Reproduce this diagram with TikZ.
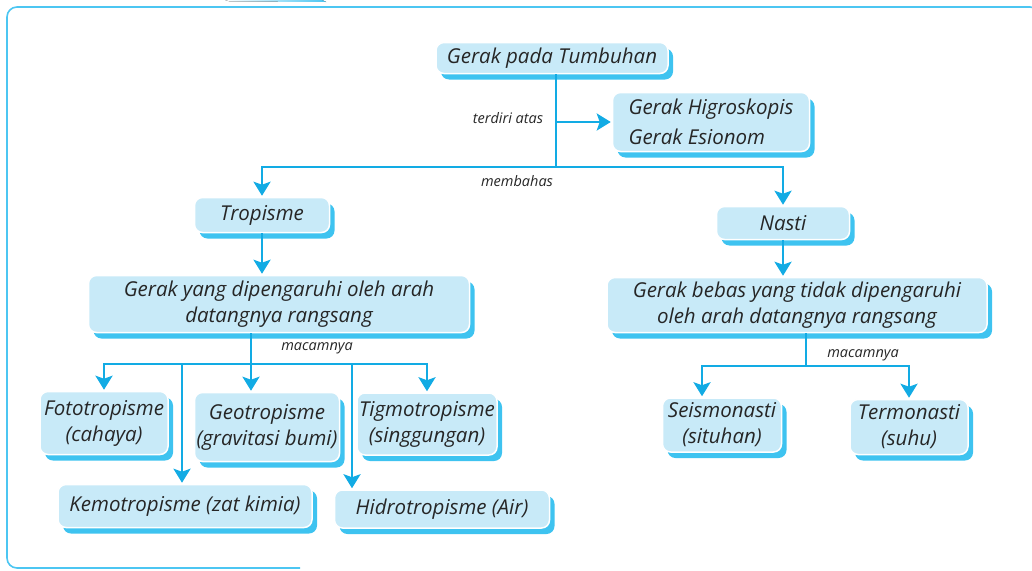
\documentclass[tikz,border=0pt]{standalone}
\usepackage{fontspec}
\setmainfont{Open Sans}
\usetikzlibrary{arrows.meta,shadows}
\definecolor{boxfill}{HTML}{C8EAF8}
\definecolor{boxshadow}{HTML}{3EC3F0}
\definecolor{linecol}{HTML}{12ABE4}
\definecolor{framecol}{HTML}{4CC6F2}

\begin{document}
\begin{tikzpicture}[x=1pt, y=-1pt,
    box/.style={rectangle, rounded corners=8pt, fill=boxfill, draw=white, line width=1.5pt,
        inner sep=0pt, align=center, text=black!85, font=\itshape\fontsize{20.5}{26}\selectfont,
        drop shadow={shadow xshift=5pt, shadow yshift=-6pt, fill=boxshadow, opacity=1}},
    lbl/.style={inner sep=1pt, text=black!85, font=\itshape\fontsize{14.5}{16}\selectfont},
    link/.style={line width=2.6pt, draw=linecol},
    arrow/.style={link, -{Stealth[width=17pt, length=14pt, inset=3pt]}, shorten >=1pt},
    frame/.style={draw=framecol, line width=1.6pt, rounded corners=10pt}
]
    \useasboundingbox (0,0) rectangle (1032,570);

    % Frame
    \draw[frame] (300,568) -- (7,568) -- (7,7) -- (1040,7) -- (1040,30);
    \fill[left color=white, right color=framecol] (225,0) -- (322,0) -- (326,2) -- (230,1.5) -- cycle;

    % Top
    \node[box, minimum width=232pt, minimum height=31pt] (top) at (552,58) {Gerak pada Tumbuhan};
    \node[box, align=left, minimum width=197pt, minimum height=59pt,
        font=\itshape\fontsize{20.5}{30}\selectfont] (hig) at (711,122) {Gerak Higroskopis\\Gerak Esionom};

    % Tropisme and Nasti
    \node[box, minimum width=135pt, minimum height=35pt] (trop) at (262,215) {Tropisme};
    \node[box, minimum width=133pt, minimum height=33pt] (nasti) at (783,223) {Nasti};
    \node[box, minimum width=381pt, minimum height=57pt] (dip) at (279,304) {Gerak yang dipengaruhi oleh arah\\datangnya rangsang};
    \node[box, minimum width=380pt, minimum height=55pt] (bebas) at (797,305) {Gerak bebas yang tidak dipengaruhi\\oleh arah datangnya rangsang};

    % Kinds of tropisme
    \node[box, minimum width=128pt, minimum height=63pt] (foto) at (104,423) {Fototropisme\\(cahaya)};
    \node[box, minimum width=145pt, minimum height=69pt] (geo) at (267,427) {Geotropisme\\(gravitasi bumi)};
    \node[box, minimum width=140pt, minimum height=62pt] (tigmo) at (427,424) {Tigmotropisme\\(singgungan)};
    \node[box, minimum width=254pt, minimum height=43pt] (kemo) at (185,506) {Kemotropisme (zat kimia)};
    \node[box, minimum width=215pt, minimum height=38pt] (hidro) at (442,509) {Hidrotropisme (Air)};

    % Kinds of nasti
    \node[box, minimum width=119pt, minimum height=54pt] (seis) at (722,425) {Seismonasti\\(situhan)};
    \node[box, minimum width=118pt, minimum height=55pt] (termo) at (909,427) {Termonasti\\(suhu)};

    % Junctions
    \coordinate (split) at (556,167);
    \coordinate (m1) at (251,364);
    \coordinate (kj) at (182,364);
    \coordinate (hj) at (352,364);
    \coordinate (m2) at (806,366);

    % Connections
    \draw[link] (top.south -| split) -- (split);
    \draw[arrow] (split |- hig.west) -- (hig.west);
    \draw[arrow] (split) -| (trop.north);
    \draw[arrow] (split) -| (nasti.north);
    \draw[arrow] (trop.south) -- (trop.south |- dip.north);
    \draw[arrow] (nasti.south) -- (nasti.south |- bebas.north);

    \draw[link] (dip.south -| m1) -- (m1);
    \draw[arrow] (m1) -| (foto.north);
    \draw[arrow] (m1) -| (tigmo.north);
    \draw[arrow] (m1) -- (m1 |- geo.north);
    \draw[arrow] (kj) -- (kj |- kemo.north);
    \draw[arrow] (hj) -- (hj |- hidro.north);

    \draw[link] (bebas.south -| m2) -- (m2);
    \draw[arrow] (m2) -| ([xshift=-20pt]seis.north);
    \draw[arrow] (m2) -| (termo.north);

    % Labels
    \node[lbl] (terdiri) at (508,118) {terdiri atas};
    \node[lbl] (membahas) at (517,181) {membahas};
    \node[lbl] (macam1) at (317,348) {macamnya};
    \node[lbl] (macam2) at (863,355) {macamnya};
\end{tikzpicture}
\end{document}
